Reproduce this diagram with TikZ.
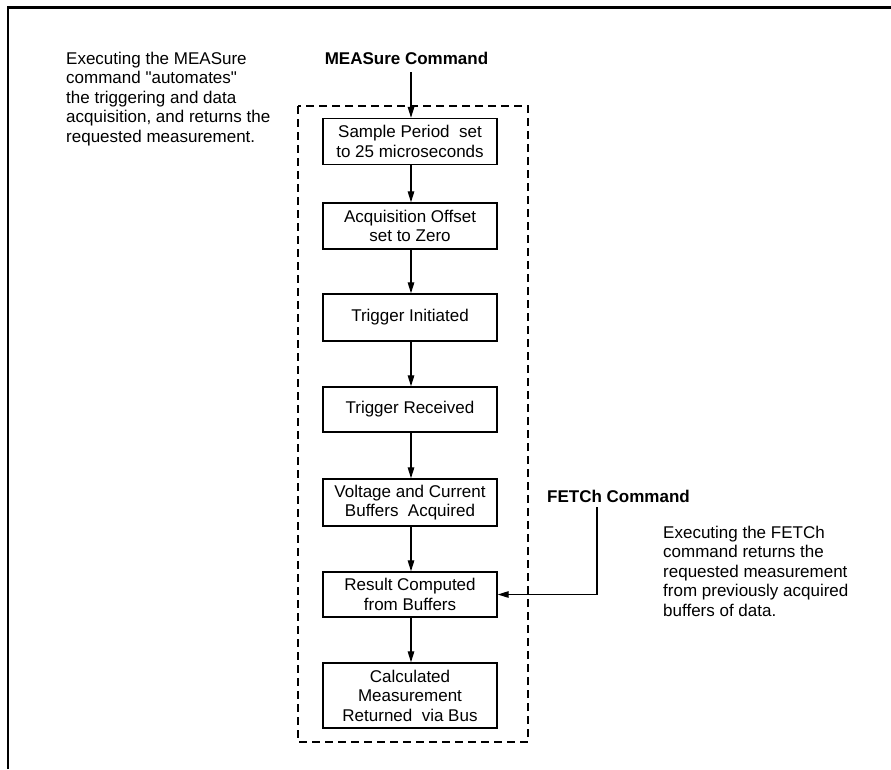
\documentclass[tikz,border=0pt]{standalone}
\usepackage{fontspec}
\setmainfont{Liberation Sans}[Ligatures=TeXOff]
\usetikzlibrary{arrows.meta}
\begin{document}
\begin{tikzpicture}[x=1pt,y=-1pt,
  every node/.style={font=\fontsize{17}{19.5}\selectfont},
  stepbox/.style={draw,line width=1.4pt,minimum width=174pt,minimum height=46pt,inner sep=0pt,align=center},
  title/.style={font=\fontsize{17}{19.5}\selectfont\bfseries,inner sep=0pt},
  note/.style={align=left,inner sep=0pt,anchor=north west},
  arr/.style={line width=1.3pt,-{Triangle[length=11pt,width=6.5pt]}},
  group/.style={line width=1.8pt,dash pattern=on 8pt off 5pt}]
\useasboundingbox (0,0) rectangle (891,769);
% frame (top and left edges)
\draw[line width=2.5pt] (8,769) -- (8,7.5) -- (891,7.5);
% dashed group box
\draw[group] (298,106) rectangle (528,742);
% titles
\node[title,anchor=base] (meas) at (406.5,64) {MEASure Command};
\node[title,anchor=base west] (fetch) at (547,502) {FETCh Command};
% notes
\node[note] (noteL) at (66,51.5) {Executing the MEASure\\command "automates"\\the triggering and data\\acquisition, and returns the\\requested measurement.};
\node[note] (noteR) at (663,525.5) {Executing the FETCh\\command returns the\\requested measurement\\from previously acquired\\buffers of data.};
% steps
\node[stepbox] (r1) at (410,141.5) {Sample Period\ \ set\\to 25 microseconds};
\node[stepbox] (r2) at (410,226) {Acquisition Offset\\set to Zero};
\node[stepbox,minimum height=47pt] (r3) at (410,317.5) {Trigger Initiated};
\node[stepbox,minimum height=45pt] (r4) at (410,409.5) {Trigger Received};
\node[stepbox,minimum height=47pt] (r5) at (410,502.5) {Voltage and Current\\Buffers\ \ Acquired};
\node[stepbox,minimum height=45pt] (r6) at (410,594.5) {Result Computed\\from Buffers};
\node[stepbox,minimum height=65pt] (r7) at (410,695.5) {Calculated\\Measurement\\Returned\ \ via Bus};
% connectors
\draw[arr,shorten <=8pt] (meas.south -| 411,0) -- (r1.north -| 411,0);
\draw[arr] (r1.south -| 411,0) -- (r2.north -| 411,0);
\draw[arr] (r2.south -| 411,0) -- (r3.north -| 411,0);
\draw[arr] (r3.south -| 411,0) -- (r4.north -| 411,0);
\draw[arr] (r4.south -| 411,0) -- (r5.north -| 411,0);
\draw[arr] (r5.south -| 411,0) -- (r6.north -| 411,0);
\draw[arr] (r6.south -| 411,0) -- (r7.north -| 411,0);
\coordinate (fc) at (597,507);
\draw[arr] (fc) |- (r6.east);
\end{tikzpicture}
\end{document}
